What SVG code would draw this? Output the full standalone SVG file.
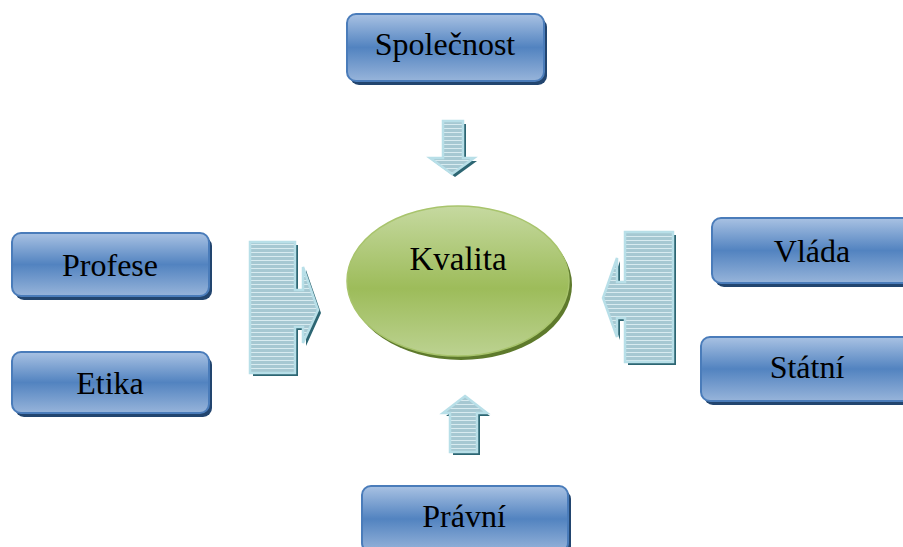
<svg xmlns="http://www.w3.org/2000/svg" width="903" height="547" viewBox="0 0 903 547">
<defs>
<linearGradient id="boxg" x1="0" y1="0" x2="0" y2="1">
<stop offset="0" stop-color="#a9c2e3"/>
<stop offset="0.5" stop-color="#5283c0"/>
<stop offset="1" stop-color="#97b4da"/>
</linearGradient>
<linearGradient id="ellg" x1="0" y1="0" x2="0" y2="1">
<stop offset="0" stop-color="#c6d9a0"/>
<stop offset="0.55" stop-color="#9dbc5a"/>
<stop offset="1" stop-color="#bcd291"/>
</linearGradient>
<pattern id="stripe" patternUnits="userSpaceOnUse" width="10" height="4">
<rect width="10" height="4" fill="#a6c8d2"/>
<rect y="0" width="10" height="1" fill="#d8ebf0"/>
</pattern>
<style>
text{font-family:'Liberation Serif',serif !important;fill:#000;text-anchor:middle}
.box{fill:url(#boxg);stroke:#4a7cba;stroke-width:2}
.bsh{fill:#22456f}
.arr{fill:url(#stripe);stroke:#b8dfe8;stroke-width:2.5;stroke-linejoin:miter}
.ash{fill:#2d6673}
</style>
</defs>

<g id="connectors">
<g id="arrow-top">
<path class="ash" d="M446,124 L466,124 L466,161 L477,161 L455,177 L433,161 L446,161 Z"/>
<path class="arr" d="M443,121 L463,121 L463,158 L474,158 L452,174 L430,158 L443,158 Z"/>
</g>
<g id="arrow-bottom">
<path class="ash" d="M468,399 L490,416 L480,416 L480,455 L453,455 L453,416 L446,416 Z"/>
<path class="arr" d="M465,396 L487,413 L477,413 L477,452 L450,452 L450,413 L443,413 Z"/>
</g>
<g id="arrow-left">
<path class="ash" d="M253,245 L298,245 L298,293 L306,293 L306,270 L321,313 L306,346 L306,330 L298,330 L298,376 L253,376 Z"/>
<path class="arr" d="M250,242 L295,242 L295,290 L303,290 L303,267 L318,310 L303,343 L303,327 L295,327 L295,373 L250,373 Z"/>
</g>
<g id="arrow-right">
<path class="ash" d="M676,235 L676,365 L628,365 L628,321 L620,321 L620,340 L606,301 L620,261 L620,285 L628,285 L628,235 Z"/>
<path class="arr" d="M673,232 L673,362 L625,362 L625,318 L617,318 L617,337 L603,298 L617,258 L617,282 L625,282 L625,232 Z"/>
</g>
</g>

<g id="kvalita">
<ellipse cx="461" cy="285" rx="111" ry="75" fill="#5e7a2c"/>
<ellipse cx="458" cy="281" rx="111" ry="75" fill="url(#ellg)" stroke="#a8c46c" stroke-width="1.5"/>
<text x="458" y="270" style="font-family:'Liberation Serif',serif;font-size:33px">Kvalita</text>
</g>

<g id="spolecnost">
<rect class="bsh" x="350" y="18" width="197" height="67" rx="9"/>
<rect class="box" x="347" y="14" width="197" height="67" rx="9"/>
<text x="445" y="55" style="font-family:'Liberation Serif',serif;font-size:32px">Společnost</text>
</g>

<g id="profese">
<rect class="bsh" x="15" y="237" width="197" height="63" rx="9"/>
<rect class="box" x="12" y="233" width="197" height="63" rx="9"/>
<text x="110" y="276" style="font-family:'Liberation Serif',serif;font-size:32px">Profese</text>
</g>

<g id="etika">
<rect class="bsh" x="15" y="356" width="197" height="61" rx="9"/>
<rect class="box" x="12" y="352" width="197" height="61" rx="9"/>
<text x="110" y="394" style="font-family:'Liberation Serif',serif;font-size:32px">Etika</text>
</g>

<g id="vlada">
<rect class="bsh" x="715" y="222" width="200" height="65" rx="9"/>
<rect class="box" x="712" y="218" width="200" height="65" rx="9"/>
<text x="812" y="262" style="font-family:'Liberation Serif',serif;font-size:32px">Vláda</text>
</g>

<g id="statni">
<rect class="bsh" x="704" y="341" width="210" height="64" rx="9"/>
<rect class="box" x="701" y="337" width="210" height="64" rx="9"/>
<text x="807" y="378" style="font-family:'Liberation Serif',serif;font-size:32px">Státní</text>
</g>

<g id="pravni">
<rect class="bsh" x="365" y="490" width="206" height="66" rx="9"/>
<rect class="box" x="362" y="486" width="206" height="66" rx="9"/>
<text x="464" y="527" style="font-family:'Liberation Serif',serif;font-size:32px">Právní</text>
</g>
</svg>
